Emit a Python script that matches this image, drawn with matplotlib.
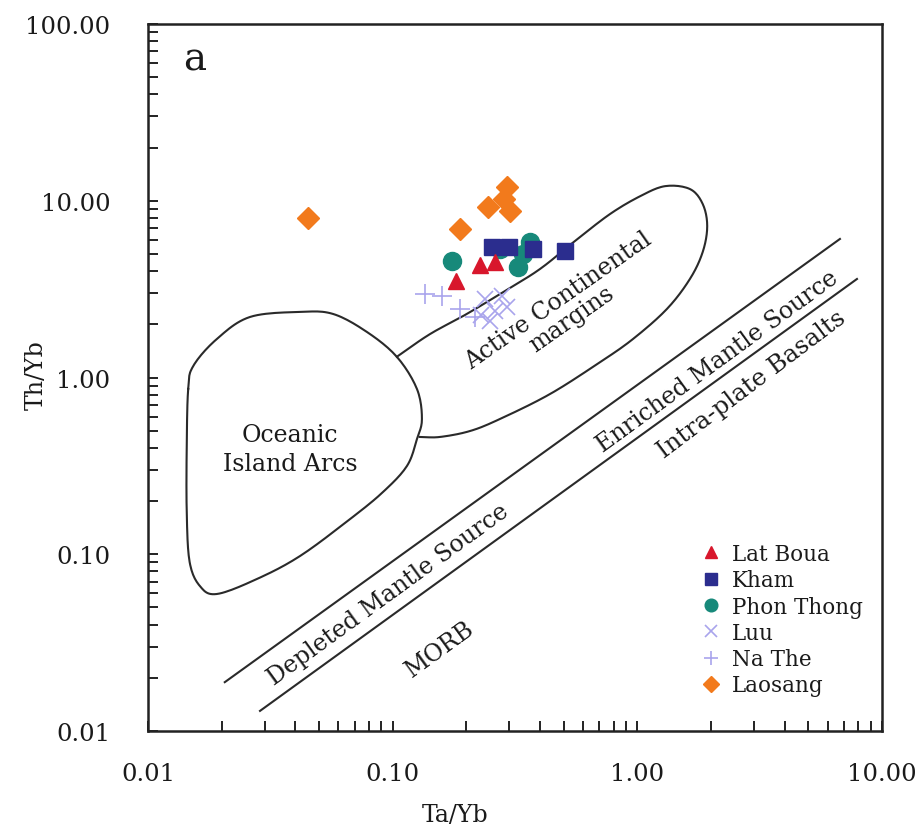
import numpy as np
import matplotlib.pyplot as plt
from matplotlib.ticker import LogLocator, NullFormatter, FixedFormatter

plt.rcParams['font.family'] = ['DejaVu Serif']

# sample data (Ta/Yb, Th/Yb)
lat_boua_x = [0.181, 0.227, 0.262]
lat_boua_y = [3.52, 4.33, 4.50]
kham_x = [0.255, 0.300, 0.375, 0.506]
kham_y = [5.47, 5.47, 5.33, 5.20]
phon_thong_x = [0.175, 0.274, 0.325, 0.364, 0.340]
phon_thong_y = [4.56, 5.33, 4.22, 5.84, 5.00]
luu_x = [0.238, 0.262, 0.250, 0.280, 0.293, 0.229]
luu_y = [2.78, 2.38, 2.09, 2.90, 2.51, 2.26]
na_the_x = [0.1355, 0.159, 0.188, 0.217]
na_the_y = [2.97, 2.89, 2.44, 2.20]
laosang_x = [0.0451, 0.188, 0.245, 0.293, 0.301, 0.285]
laosang_y = [7.98, 6.92, 9.22, 11.97, 8.75, 10.2]

# field boundaries
oia_x = [0.0146, 0.0153, 0.0191, 0.0261, 0.0418, 0.057, 0.0785, 0.104, 0.1257,
         0.1317, 0.1257, 0.1144, 0.0913, 0.0669, 0.0418, 0.0279, 0.0191, 0.0163,
         0.0148, 0.0144, 0.0144]
oia_y = [0.861, 1.16, 1.65, 2.20, 2.35, 2.29, 1.81, 1.31, 0.861,
         0.582, 0.449, 0.316, 0.225, 0.158, 0.0977, 0.0725, 0.0596, 0.0661,
         0.0904, 0.173, 0.41]
acm_x = [0.104, 0.142, 0.201, 0.288, 0.40, 0.556, 0.773, 1.025, 1.30, 1.64,
         1.85, 1.93, 1.85, 1.64, 1.32, 0.959, 0.703, 0.44, 0.274, 0.207, 0.156, 0.129]
acm_y = [1.31, 1.76, 2.29, 3.09, 4.11, 5.92, 8.41, 10.6, 12.1, 11.65,
         9.59, 7.19, 5.13, 3.61, 2.44, 1.65, 1.22, 0.807, 0.582, 0.498, 0.461, 0.461]
upper_line_x = [0.0206, 6.73]
upper_line_y = [0.0189, 6.08]
lower_line_x = [0.0287, 7.9]
lower_line_y = [0.013, 3.61]

x_ticks = [0.01, 0.1, 1, 10]
x_labels = ['0.01', '0.10', '1.00', '10.00']
y_ticks = [0.01, 0.1, 1, 10, 100]
y_labels = ['0.01', '0.10', '1.00', '10.00', '100.00']


def smooth_outline(xs, ys, closed=False, n=12):
    # Catmull-Rom through the traced boundary points (in log space)
    p = np.column_stack([np.log10(xs), np.log10(ys)])
    if closed:
        p = np.vstack([p[-1], p, p[0], p[1]])
    else:
        p = np.vstack([2 * p[0] - p[1], p, 2 * p[-1] - p[-2]])
    out = []
    t = np.linspace(0, 1, n, endpoint=False)[:, None]
    for i in range(1, len(p) - 2):
        p0, p1, p2, p3 = p[i - 1], p[i], p[i + 1], p[i + 2]
        seg = 0.5 * ((2 * p1) + (-p0 + p2) * t + (2 * p0 - 5 * p1 + 4 * p2 - p3) * t ** 2
                     + (-p0 + 3 * p1 - 3 * p2 + p3) * t ** 3)
        out.append(seg)
    out.append(p[len(p) - 2][None, :])
    out = np.vstack(out)
    return 10 ** out[:, 0], 10 ** out[:, 1]


fig = plt.figure(figsize=(9.18, 8.28), dpi=100)
ax = fig.add_axes([0.1612, 0.1159, 0.7996, 0.8539])
ax.set_xscale('log')
ax.set_yscale('log')
ax.set_xlim(0.01, 10)
ax.set_ylim(0.01, 100)

lc = '#2a2a2a'
ox, oy = smooth_outline(oia_x, oia_y, closed=True)
ax.plot(ox, oy, color=lc, lw=1.5)
cx, cy = smooth_outline(acm_x, acm_y)
ax.plot(cx, cy, color=lc, lw=1.5)
ax.plot(upper_line_x, upper_line_y, color=lc, lw=1.5)
ax.plot(lower_line_x, lower_line_y, color=lc, lw=1.5)

ax.plot(na_the_x, na_the_y, '+', color='#a9a4ec', ms=15, mew=1.2, ls='none', label='Na The')
ax.plot(luu_x, luu_y, 'x', color='#a9a4ec', ms=12, mew=1.2, ls='none', label='Luu')
ax.plot(phon_thong_x, phon_thong_y, 'o', color='#17897a', ms=13, ls='none', label='Phon Thong')
ax.plot(kham_x, kham_y, 's', color='#2b2d8e', ms=12, ls='none', label='Kham')
ax.plot(lat_boua_x, lat_boua_y, '^', color='#d8172c', ms=12, ls='none', label='Lat Boua')
ax.plot(laosang_x, laosang_y, 'D', color='#f27a1c', ms=11, ls='none', label='Laosang')

# field labels
tc = '#1a1a1a'
ax.text(0.01556, 63.4, 'a', fontsize=28, ha='center', va='center', color=tc)
ax.text(0.038, 0.394, 'Oceanic\nIsland Arcs', fontsize=17, ha='center', va='center',
        color=tc, linespacing=1.3)
ax.text(0.506, 2.44, 'Active Continental\nmargins', fontsize=17, ha='center', va='center',
        rotation=35, color=tc, linespacing=1.0)
ax.text(2.13, 1.24, 'Enriched Mantle Source', fontsize=17, ha='center', va='center',
        rotation=36, color=tc)
ax.text(0.0958, 0.0596, 'Depleted Mantle Source', fontsize=17, ha='center', va='center',
        rotation=36, color=tc)
ax.text(2.94, 0.919, 'Intra-plate Basalts', fontsize=17.5, ha='center', va='center',
        rotation=37, color=tc)
ax.text(0.156, 0.0291, 'MORB', fontsize=17, ha='center', va='center',
        rotation=36, color=tc)

# axes styling
ax.xaxis.set_major_locator(plt.FixedLocator(x_ticks))
ax.xaxis.set_major_formatter(FixedFormatter(x_labels))
ax.yaxis.set_major_locator(plt.FixedLocator(y_ticks))
ax.yaxis.set_major_formatter(FixedFormatter(y_labels))
ax.xaxis.set_minor_locator(LogLocator(base=10, subs=np.arange(2, 10)))
ax.yaxis.set_minor_locator(LogLocator(base=10, subs=np.arange(2, 10)))
ax.xaxis.set_minor_formatter(NullFormatter())
ax.yaxis.set_minor_formatter(NullFormatter())
ax.tick_params(which='both', direction='in', length=7, width=1.4, top=False, right=False,
               color='#222222')
ax.tick_params(axis='x', which='major', pad=22, labelsize=17.5, labelcolor=tc)
ax.tick_params(axis='y', which='major', pad=27, labelsize=17.5, labelcolor=tc)
for s in ax.spines.values():
    s.set_linewidth(1.8)
    s.set_color('#222222')

ax.set_xlabel('Ta/Yb', fontsize=17, color=tc)
ax.set_ylabel('Th/Yb', fontsize=17, color=tc)
ax.xaxis.set_label_coords(0.418, -0.102)
ax.yaxis.set_label_coords(-0.137, 0.505)

handles, labels = ax.get_legend_handles_labels()
order = ['Lat Boua', 'Kham', 'Phon Thong', 'Luu', 'Na The', 'Laosang']
hs = [handles[labels.index(n)] for n in order]
leg = ax.legend(hs, order, loc='upper left', bbox_to_anchor=(0.752, 0.266), frameon=False,
                fontsize=15.5, markerscale=0.7, handlelength=1.0, handletextpad=0.5,
                labelspacing=0.2, borderpad=0, borderaxespad=0)
for t in leg.get_texts():
    t.set_color(tc)

fig.savefig('out.png', dpi=100)
